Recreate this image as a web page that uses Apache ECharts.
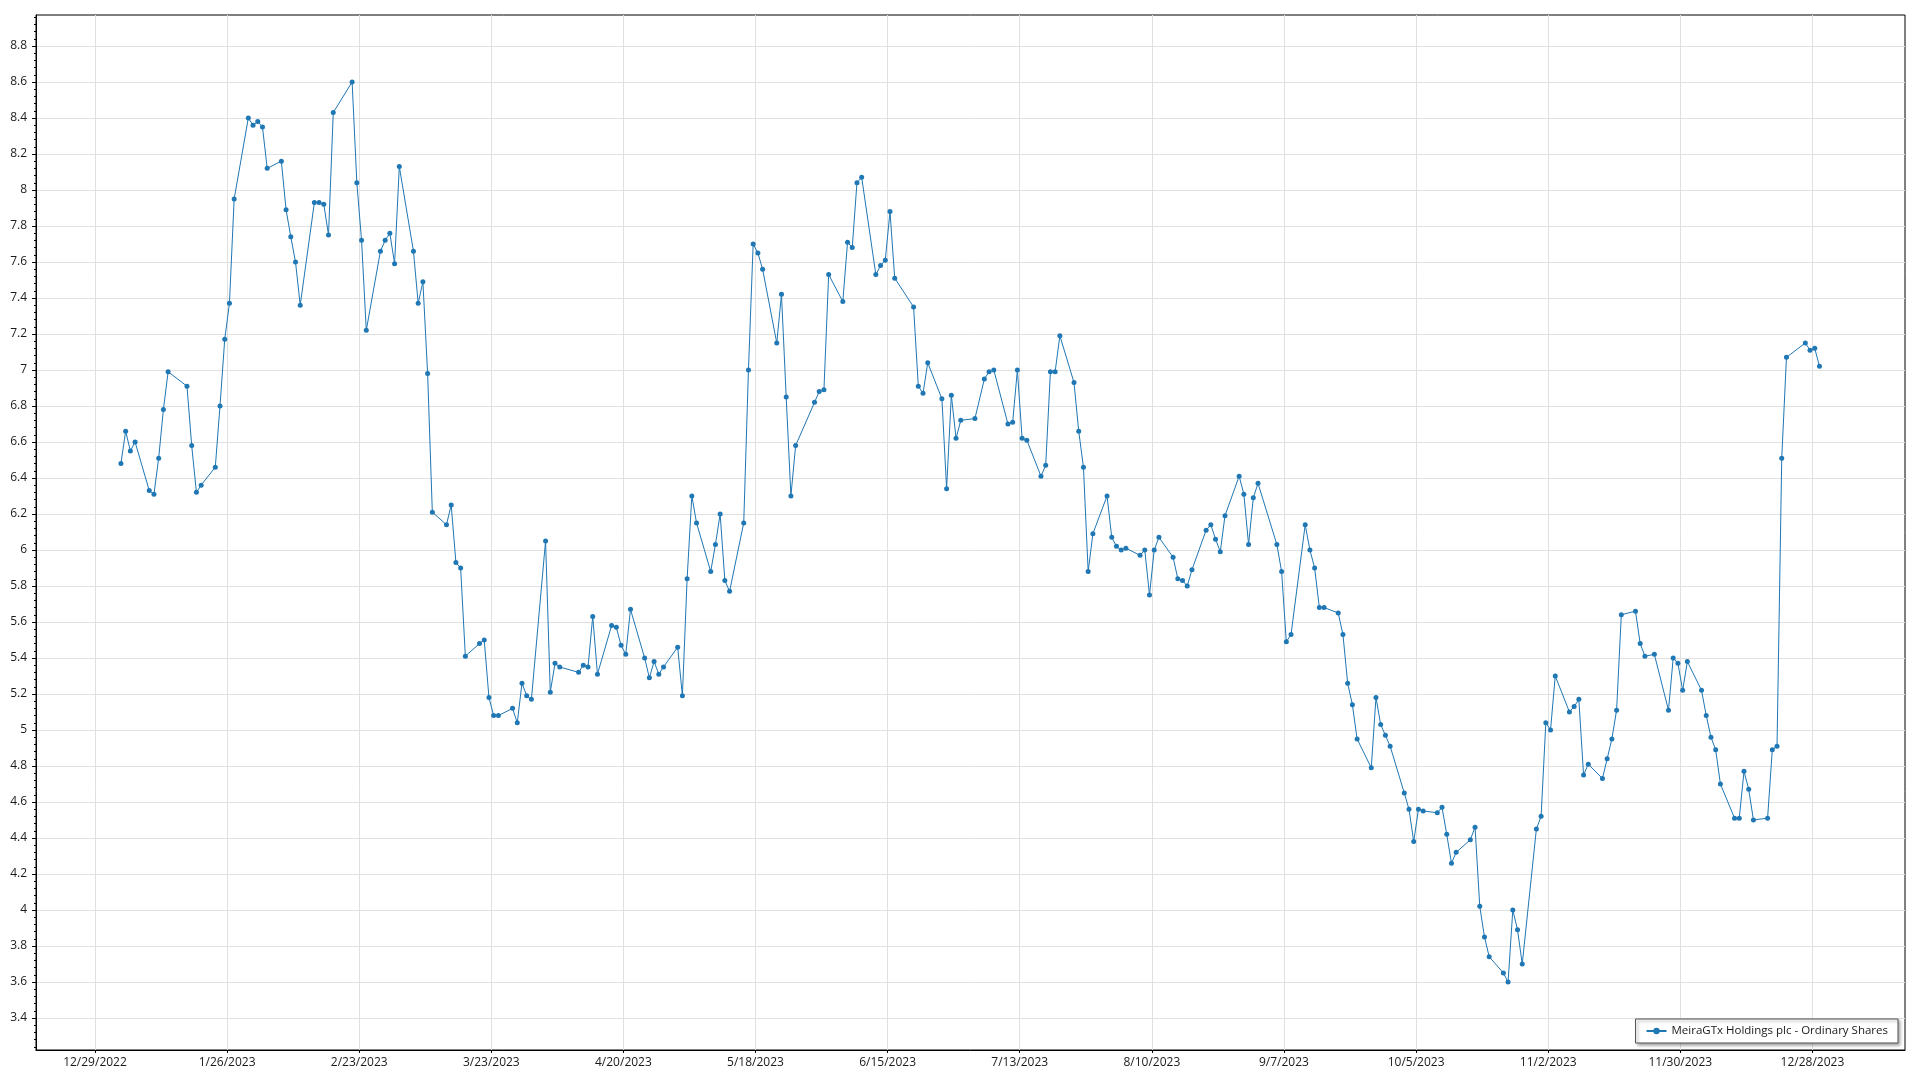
<!DOCTYPE html>
<html>
<head>
<meta charset="utf-8">
<script src="https://cdn.jsdelivr.net/npm/echarts@6/dist/echarts.min.js"></script>
<style>
html,body{margin:0;padding:0;background:#fff;}
#chart{width:1920px;height:1080px;}
</style>
</head>
<body>
<div id="chart"></div>
<script>
const seriesName = 'MeiraGTx Holdings plc - Ordinary Shares';

const dates = [
'2023-01-03','2023-01-04','2023-01-05','2023-01-06','2023-01-09','2023-01-10','2023-01-11','2023-01-12','2023-01-13','2023-01-17','2023-01-18','2023-01-19','2023-01-20','2023-01-23','2023-01-24','2023-01-25','2023-01-26','2023-01-27','2023-01-30','2023-01-31',
'2023-02-01','2023-02-02','2023-02-03','2023-02-06','2023-02-07','2023-02-08','2023-02-09','2023-02-10','2023-02-13','2023-02-14','2023-02-15','2023-02-16','2023-02-17','2023-02-21','2023-02-22','2023-02-23','2023-02-24','2023-02-27','2023-02-28',
'2023-03-01','2023-03-02','2023-03-03','2023-03-06','2023-03-07','2023-03-08','2023-03-09','2023-03-10','2023-03-13','2023-03-14','2023-03-15','2023-03-16','2023-03-17','2023-03-20','2023-03-21','2023-03-22','2023-03-23','2023-03-24','2023-03-27','2023-03-28','2023-03-29','2023-03-30','2023-03-31',
'2023-04-03','2023-04-04','2023-04-05','2023-04-06','2023-04-10','2023-04-11','2023-04-12','2023-04-13','2023-04-14','2023-04-17','2023-04-18','2023-04-19','2023-04-20','2023-04-21','2023-04-24','2023-04-25','2023-04-26','2023-04-27','2023-04-28',
'2023-05-01','2023-05-02','2023-05-03','2023-05-04','2023-05-05','2023-05-08','2023-05-09','2023-05-10','2023-05-11','2023-05-12','2023-05-15','2023-05-16','2023-05-17','2023-05-18','2023-05-19','2023-05-22','2023-05-23','2023-05-24','2023-05-25','2023-05-26','2023-05-30','2023-05-31',
'2023-06-01','2023-06-02','2023-06-05','2023-06-06','2023-06-07','2023-06-08','2023-06-09','2023-06-12','2023-06-13','2023-06-14','2023-06-15','2023-06-16','2023-06-20','2023-06-21','2023-06-22','2023-06-23','2023-06-26','2023-06-27','2023-06-28','2023-06-29','2023-06-30',
'2023-07-03','2023-07-05','2023-07-06','2023-07-07','2023-07-10','2023-07-11','2023-07-12','2023-07-13','2023-07-14','2023-07-17','2023-07-18','2023-07-19','2023-07-20','2023-07-21','2023-07-24','2023-07-25','2023-07-26','2023-07-27','2023-07-28','2023-07-31',
'2023-08-01','2023-08-02','2023-08-03','2023-08-04','2023-08-07','2023-08-08','2023-08-09','2023-08-10','2023-08-11','2023-08-14','2023-08-15','2023-08-16','2023-08-17','2023-08-18','2023-08-21','2023-08-22','2023-08-23','2023-08-24','2023-08-25','2023-08-28','2023-08-29','2023-08-30','2023-08-31',
'2023-09-01','2023-09-05','2023-09-06','2023-09-07','2023-09-08','2023-09-11','2023-09-12','2023-09-13','2023-09-14','2023-09-15','2023-09-18','2023-09-19','2023-09-20','2023-09-21','2023-09-22','2023-09-25','2023-09-26','2023-09-27','2023-09-28','2023-09-29',
'2023-10-02','2023-10-03','2023-10-04','2023-10-05','2023-10-06','2023-10-09','2023-10-10','2023-10-11','2023-10-12','2023-10-13','2023-10-16','2023-10-17','2023-10-18','2023-10-19','2023-10-20','2023-10-23','2023-10-24','2023-10-25','2023-10-26','2023-10-27','2023-10-30','2023-10-31',
'2023-11-01','2023-11-02','2023-11-03','2023-11-06','2023-11-07','2023-11-08','2023-11-09','2023-11-10','2023-11-13','2023-11-14','2023-11-15','2023-11-16','2023-11-17','2023-11-20','2023-11-21','2023-11-22','2023-11-24','2023-11-27','2023-11-28','2023-11-29','2023-11-30',
'2023-12-01','2023-12-04','2023-12-05','2023-12-06','2023-12-07','2023-12-08','2023-12-11','2023-12-12','2023-12-13','2023-12-14','2023-12-15','2023-12-18','2023-12-19','2023-12-20','2023-12-21','2023-12-22','2023-12-26','2023-12-27','2023-12-28','2023-12-29'
];

const prices = [
6.48,6.66,6.55,6.60,6.33,6.31,6.51,6.78,6.99,6.91,6.58,6.32,6.36,6.46,6.80,7.17,7.37,7.95,8.40,8.36,
8.38,8.35,8.12,8.16,7.89,7.74,7.60,7.36,7.93,7.93,7.92,7.75,8.43,8.60,8.04,7.72,7.22,7.66,7.72,
7.76,7.59,8.13,7.66,7.37,7.49,6.98,6.21,6.14,6.25,5.93,5.90,5.41,5.48,5.50,5.18,5.08,5.08,5.12,5.04,5.26,5.19,5.17,
6.05,5.21,5.37,5.35,5.32,5.36,5.35,5.63,5.31,5.58,5.57,5.47,5.42,5.67,5.40,5.29,5.38,5.31,5.35,
5.46,5.19,5.84,6.30,6.15,5.88,6.03,6.20,5.83,5.77,6.15,7.00,7.70,7.65,7.56,7.15,7.42,6.85,6.30,6.58,6.82,6.88,
6.89,7.53,7.38,7.71,7.68,8.04,8.07,7.53,7.58,7.61,7.88,7.51,7.35,6.91,6.87,7.04,6.84,6.34,6.86,6.62,6.72,
6.73,6.95,6.99,7.00,6.70,6.71,7.00,6.62,6.61,6.41,6.47,6.99,6.99,7.19,6.93,6.66,6.46,5.88,6.09,6.30,
6.07,6.02,6.00,6.01,5.97,6.00,5.75,6.00,6.07,5.96,5.84,5.83,5.80,5.89,6.11,6.14,6.06,5.99,6.19,6.41,6.31,6.03,6.29,
6.37,6.03,5.88,5.49,5.53,6.14,6.00,5.90,5.68,5.68,5.65,5.53,5.26,5.14,4.95,4.79,5.18,5.03,4.97,4.91,
4.65,4.56,4.38,4.56,4.55,4.54,4.57,4.42,4.26,4.32,4.39,4.46,4.02,3.85,3.74,3.65,3.60,4.00,3.89,3.70,4.45,4.52,
5.04,5.00,5.30,5.10,5.13,5.17,4.75,4.81,4.73,4.84,4.95,5.11,5.64,5.66,5.48,5.41,5.42,5.11,5.40,5.37,5.22,
5.38,5.22,5.08,4.96,4.89,4.70,4.51,4.51,4.77,4.67,4.50,4.51,4.89,4.91,6.51,7.07,7.15,7.11,7.12,7.02
];

const xTickDates = ['2022-12-29','2023-01-26','2023-02-23','2023-03-23','2023-04-20','2023-05-18','2023-06-15','2023-07-13','2023-08-10','2023-09-07','2023-10-05','2023-11-02','2023-11-30','2023-12-28'];
const yTicks = [3.4,3.6,3.8,4.0,4.2,4.4,4.6,4.8,5.0,5.2,5.4,5.6,5.8,6.0,6.2,6.4,6.6,6.8,7.0,7.2,7.4,7.6,7.8,8.0,8.2,8.4,8.6,8.8];

const tickMs = d => Date.parse(d + 'T00:00:00Z');
const pointMs = d => Date.parse(d + 'T12:00:00Z');
const seriesData = dates.map((d, i) => [pointMs(d), prices[i]]);
const xTickValues = xTickDates.map(tickMs);

const FONT = '"Segoe UI", "Open Sans", "Noto Sans", sans-serif';
const fmtDate = v => { const d = new Date(v); return (d.getUTCMonth()+1) + '/' + d.getUTCDate() + '/' + d.getUTCFullYear(); };

const xMin = Date.UTC(2022, 11, 16, 12);
const xMax = Date.UTC(2024, 0, 16, 15);
const yMin = 3.222, yMax = 8.972;

const chart = echarts.init(document.getElementById('chart'), null, {renderer: 'canvas'});
chart.setOption({
  animation: false,
  backgroundColor: '#ffffff',
  grid: [
    {left: 36, right: 15, top: 15, bottom: 30, show: true, borderColor: '#000', borderWidth: 1, backgroundColor: 'transparent'},
    {left: 36, right: 15, top: 9.96, bottom: 26.04, show: false}
  ],
  xAxis: [{
    type: 'value', gridIndex: 0, min: xMin, max: xMax,
    axisLine: {show: true, onZero: false, lineStyle: {color: '#000', width: 1}},
    axisTick: {show: true, length: 3, customValues: xTickValues, lineStyle: {color: '#000'}},
    axisLabel: {customValues: xTickValues, formatter: fmtDate, color: '#1a1a1a', fontSize: 12, fontFamily: FONT, margin: 7, hideOverlap: false, showMinLabel: true, showMaxLabel: true},
    splitLine: {show: true, lineStyle: {color: '#e0e0e0', width: 1}}
  }, {
    type: 'value', gridIndex: 1, min: xMin, max: xMax, show: false
  }],
  yAxis: [{
    type: 'value', gridIndex: 0, min: yMin, max: yMax,
    axisLine: {show: true, onZero: false, lineStyle: {color: '#000', width: 1}},
    axisTick: {show: true, length: 4, customValues: yTicks, lineStyle: {color: '#000'}},
    axisLabel: {customValues: yTicks, formatter: v => String(Math.round(v * 10) / 10), color: '#1a1a1a', fontSize: 12, fontFamily: FONT, margin: 9},
    splitLine: {show: true, lineStyle: {color: '#e0e0e0', width: 1}}
  }, {
    type: 'value', gridIndex: 1, min: 3.2, max: 9.0, interval: 0.2, splitNumber: 29,
    axisLine: {show: false},
    axisTick: {show: false},
    axisLabel: {show: false},
    splitLine: {show: false},
    minorTick: {show: true, splitNumber: 5, length: 2, lineStyle: {color: '#000', width: 1}},
    minorSplitLine: {show: false}
  }],
  legend: {
    show: true,
    data: [seriesName],
    right: 22, bottom: 37,
    padding: [6, 10],
    backgroundColor: '#ffffff',
    borderColor: '#555',
    borderWidth: 1,
    borderRadius: 0,
    shadowColor: 'rgba(0,0,0,0.35)',
    shadowBlur: 3,
    shadowOffsetX: 2,
    shadowOffsetY: 2,
    itemWidth: 20,
    itemHeight: 8,
    itemGap: 5,
    textStyle: {fontSize: 11.5, color: '#1a1a1a', fontFamily: FONT}
  },
  series: [{
    name: seriesName,
    type: 'line',
    xAxisIndex: 0, yAxisIndex: 0,
    data: seriesData,
    symbol: 'circle',
    symbolSize: 5,
    showSymbol: true,
    showAllSymbol: true,
    lineStyle: {color: '#1f77b4', width: 1},
    itemStyle: {color: '#1f77b4'},
    emphasis: {disabled: true}
  }]
});
</script>
</body>
</html>
